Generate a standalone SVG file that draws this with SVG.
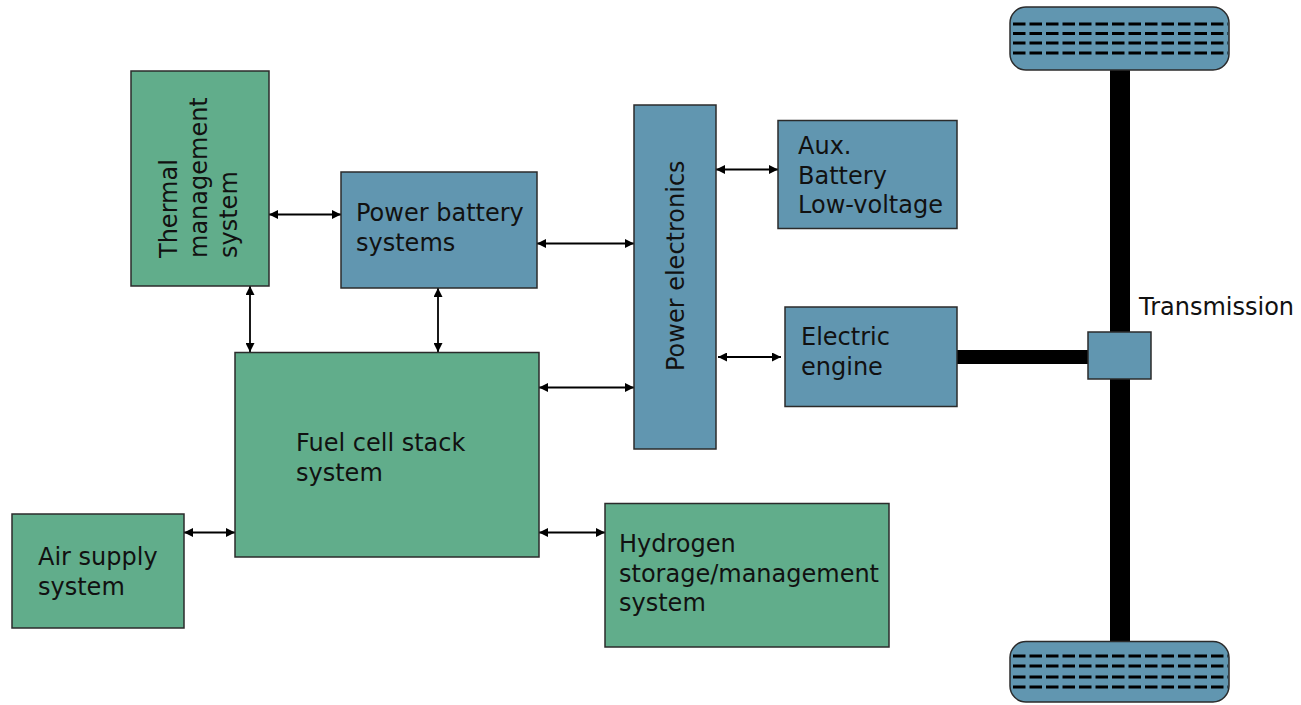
<svg xmlns="http://www.w3.org/2000/svg" width="1301" height="705" viewBox="0 0 1301 705">
<style>
.g{fill:#61ad8b;stroke:#2b2b2b;stroke-width:1.5}
.b{fill:#6196b0;stroke:#2b2b2b;stroke-width:1.5}
.t{font-family:"DejaVu Sans","Verdana",sans-serif;font-size:24px;fill:#111}
.c{stroke:#000;stroke-width:1.8;fill:none;marker-start:url(#ah);marker-end:url(#ah)}
.d{stroke:#000;stroke-width:3;stroke-dasharray:12.5 4}
</style>
<defs>
<marker id="ah" viewBox="0 0 10 10" refX="10" refY="5" markerWidth="9" markerHeight="9" markerUnits="userSpaceOnUse" orient="auto-start-reverse">
<path d="M0,0 L10,5 L0,10 z" fill="#000"/>
</marker>
</defs>
<rect width="1301" height="705" fill="#fff"/>

<g id="drivetrain">
<rect x="1110" y="68" width="20" height="576" fill="#000"/>
<rect x="957" y="350" width="132" height="14" fill="#000"/>
</g>

<g id="wheel-top">
<rect x="1010" y="7" width="219" height="63" rx="16" class="b" stroke-width="2"/>
<line x1="1013" y1="24" x2="1228" y2="24" class="d"/>
<line x1="1013" y1="33.5" x2="1228" y2="33.5" class="d"/>
<line x1="1013" y1="43" x2="1228" y2="43" class="d"/>
<line x1="1013" y1="53" x2="1228" y2="53" class="d"/>
</g>
<g id="wheel-bottom">
<rect x="1010" y="641.5" width="219" height="60.5" rx="16" class="b" stroke-width="2"/>
<line x1="1013" y1="656" x2="1228" y2="656" class="d"/>
<line x1="1013" y1="666" x2="1228" y2="666" class="d"/>
<line x1="1013" y1="677" x2="1228" y2="677" class="d"/>
<line x1="1013" y1="687" x2="1228" y2="687" class="d"/>
</g>

<g id="transmission">
<rect x="1088" y="332" width="63" height="47" class="b"/>
<text x="1139" y="315" class="t">Transmission</text>
</g>

<g id="connectors">
<line x1="269" y1="214.5" x2="341" y2="214.5" class="c"/>
<line x1="250" y1="286" x2="250" y2="352" class="c"/>
<line x1="438" y1="288" x2="438" y2="352" class="c"/>
<line x1="537" y1="243.5" x2="634" y2="243.5" class="c"/>
<line x1="539" y1="387.5" x2="634" y2="387.5" class="c"/>
<line x1="716" y1="169.5" x2="778" y2="169.5" class="c"/>
<line x1="718" y1="357" x2="781" y2="357" class="c"/>
<line x1="184" y1="532.5" x2="235" y2="532.5" class="c"/>
<line x1="539" y1="532.5" x2="605" y2="532.5" class="c"/>
</g>

<g id="thermal">
<rect x="131" y="71" width="138" height="215" class="g"/>
<text class="t" transform="translate(177,258) rotate(-90)">Thermal</text>
<text class="t" transform="translate(207,258) rotate(-90)">management</text>
<text class="t" transform="translate(237,258) rotate(-90)">system</text>
</g>

<g id="power-battery">
<rect x="341" y="172" width="196" height="116" class="b"/>
<text x="356" y="221" class="t">Power battery</text>
<text x="356" y="251" class="t">systems</text>
</g>

<g id="power-electronics">
<rect x="634" y="105" width="82" height="344" class="b"/>
<text class="t" transform="translate(684,371) rotate(-90)">Power electronics</text>
</g>

<g id="aux-battery">
<rect x="778" y="120.5" width="179" height="108" class="b"/>
<text x="798" y="154" class="t">Aux.</text>
<text x="798" y="184" class="t">Battery</text>
<text x="798" y="213" class="t">Low-voltage</text>
</g>

<g id="electric-engine">
<rect x="785" y="307" width="172" height="99.5" class="b"/>
<text x="801" y="345" class="t">Electric</text>
<text x="801" y="375" class="t">engine</text>
</g>

<g id="fuel-cell">
<rect x="235" y="352.5" width="304" height="204.5" class="g"/>
<text x="296" y="451" class="t">Fuel cell stack</text>
<text x="296" y="481" class="t">system</text>
</g>

<g id="air-supply">
<rect x="12" y="514" width="172" height="114" class="g"/>
<text x="38" y="565" class="t">Air supply</text>
<text x="38" y="595" class="t">system</text>
</g>

<g id="hydrogen">
<rect x="605" y="503.5" width="284" height="143.5" class="g"/>
<text x="619" y="552" class="t">Hydrogen</text>
<text x="619" y="582" class="t">storage/management</text>
<text x="619" y="611" class="t">system</text>
</g>
</svg>
